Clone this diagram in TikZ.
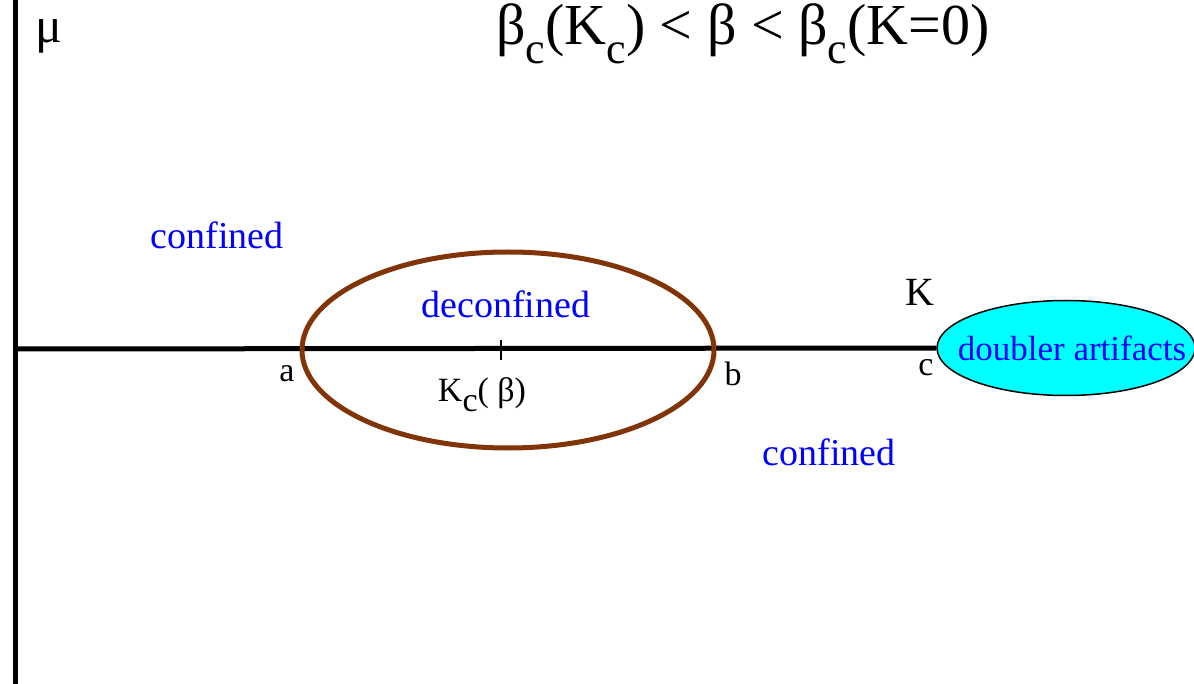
\documentclass[tikz,border=0pt]{standalone}
\usepackage{fontspec}
\setmainfont{Liberation Serif}
\usetikzlibrary{shapes.geometric}
\definecolor{PhaseBlue}{RGB}{0,0,255}
\definecolor{RingBrown}{RGB}{128,52,8}
\definecolor{DoublerCyan}{RGB}{0,255,255}
\newcommand{\lowc}[1]{\raisebox{-0.32em}{\fontsize{#1}{#1}\selectfont c}}
\begin{document}
\begin{tikzpicture}[x=1pt,y=1pt,
    phase/.style={text=PhaseBlue,font=\fontsize{38}{40}\selectfont},
    ptlabel/.style={font=\fontsize{34}{36}\selectfont},
    axis/.style={line width=5pt}]
  \useasboundingbox (0,0) rectangle (1194,-684);
  % axes
  \coordinate (top) at (15,0);
  \coordinate (bottom) at (15,-684);
  \coordinate (origin) at (15,-349);
  \node[ellipse,draw,line width=1.5pt,fill=DoublerCyan,minimum width=258,minimum height=95,
        inner sep=0pt,text=PhaseBlue,font=\fontsize{35}{37}\selectfont]
    (doubler) at (1066,-348) {\makebox[150pt]{\hspace*{12pt}doubler artifacts}};
  \draw[axis] (top) -- (bottom);
  \draw[axis] (origin) -- (doubler.west);
  % deconfined region
  \draw[RingBrown,line width=5pt] (508,-350) ellipse (206 and 98);
  \draw[line width=1.2pt] (501,-340) -- (501,-360);
  % labels
  \node[font=\fontsize{50}{52}\selectfont] (mu) at (49,-36) {μ};
  \node[font=\fontsize{58}{60}\selectfont] (title) at (743,-34)
    {β\lowc{44}(K\lowc{44}) < β < β\lowc{44}(K=0)};
  \node[phase] (confA) at (217,-235) {confined};
  \node[phase] (deconf) at (506,-304) {deconfined};
  \node[phase] (confB) at (829,-452) {confined};
  \node[font=\fontsize{40}{42}\selectfont] (K) at (920,-292) {K};
  \node[ptlabel] (a) at (287,-374) {a};
  \node[ptlabel] (b) at (733,-374) {b};
  \node[ptlabel] (c) at (926,-368) {c};
  \node[ptlabel] (Kc) at (482,-395) {K\raisebox{-0.3em}{c}( β)};
\end{tikzpicture}
\end{document}
